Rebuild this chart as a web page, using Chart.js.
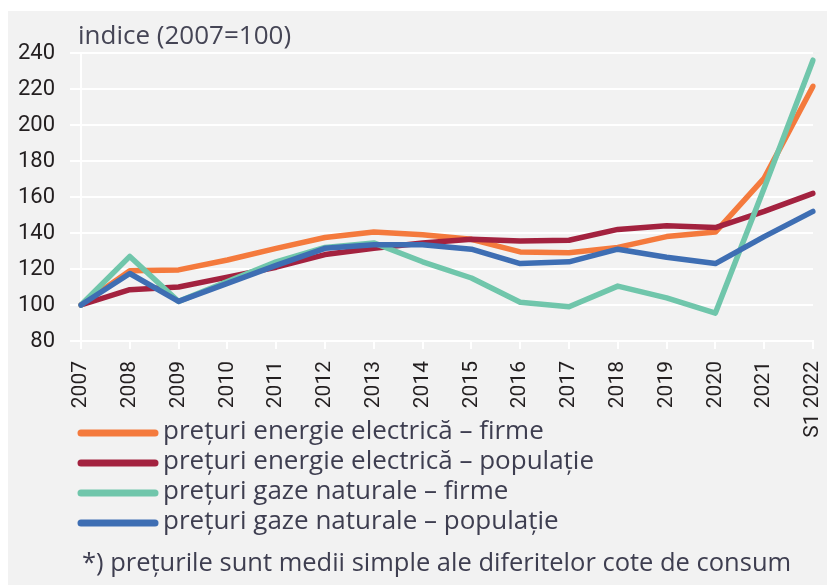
<!DOCTYPE html>
<html>
<head>
<meta charset="utf-8">
<script src="https://cdn.jsdelivr.net/npm/chart.js@4.4.1/dist/chart.umd.min.js"></script>
<style>
  html, body { margin: 0; padding: 0; background: #fff; }
  #wrap { position: absolute; left: 0; top: 0; width: 827px; height: 585px; }
</style>
</head>
<body>
<div id="wrap"><canvas id="chart" width="827" height="585"></canvas></div>
<script>
// years on the x axis
const years = ['2007', '2008', '2009', '2010', '2011', '2012', '2013', '2014',
  '2015', '2016', '2017', '2018', '2019', '2020', '2021', 'S1 2022'];

// indice (2007=100)
const elecFirme = [100, 119, 119.5, 125, 131.5, 137.5, 140.5, 139, 136.5, 129.5, 129, 132, 138, 140.5, 170.5, 221.5];
const elecPopulatie = [100, 108.5, 110, 115.5, 121, 128, 131.5, 134.5, 136.5, 135.5, 136, 142, 144, 143, 152, 162];
const gazeFirme = [100, 127, 102, 113, 124, 132, 134.5, 124, 115, 101.5, 99, 110.5, 104, 95.5, 165, 236];
const gazePopulatie = [100, 117.5, 102, 112, 122, 131.5, 133.5, 133.5, 131, 123, 124, 131, 126.5, 123, 138, 152];

const seriesLabels = [
  'prețuri energie electrică – firme',
  'prețuri energie electrică – populație',
  'prețuri gaze naturale – firme',
  'prețuri gaze naturale – populație'
];
const yTicks = [80, 100, 120, 140, 160, 180, 200, 220, 240];

const titleText = 'indice (2007=100)';
const noteText = '*) prețurile sunt medii simple ale diferitelor cote de consum';

const tickFont = 'Roboto, "Liberation Sans", sans-serif';
const textFont = '"Open Sans", "Noto Sans", sans-serif';

// background panel, title, legend and footnote
const decor = {
  id: 'decor',
  beforeDraw(chart) {
    const ctx = chart.ctx;
    ctx.save();
    ctx.fillStyle = '#ffffff';
    ctx.fillRect(0, 0, chart.width, chart.height);
    ctx.fillStyle = '#f2f2f2';
    ctx.fillRect(8, 11, chart.width - 8, chart.height - 11);
    ctx.restore();
  },
  afterDraw(chart) {
    const ctx = chart.ctx;
    ctx.save();
    ctx.textBaseline = 'middle';
    ctx.textAlign = 'left';

    ctx.fillStyle = '#454555';
    ctx.font = '26px ' + textFont;
    ctx.fillText(titleText, 78, 37);

    // legend, one row per series, in data order
    const rowY = [433, 463, 493, 523];
    chart.data.datasets.forEach((ds, i) => {
      ctx.strokeStyle = ds.borderColor;
      ctx.lineWidth = 7;
      ctx.lineCap = 'round';
      ctx.beginPath();
      ctx.moveTo(81, rowY[i]);
      ctx.lineTo(155, rowY[i]);
      ctx.stroke();
      ctx.fillStyle = '#3e3e50';
      ctx.font = '26px ' + textFont;
      ctx.fillText(ds.label, 163, rowY[i] - 1);
    });

    ctx.fillStyle = '#3e3e50';
    ctx.font = '25.5px ' + textFont;
    ctx.fillText(noteText, 82, 564);
    ctx.restore();
  }
};

const lineStyle = {
  fill: false,
  tension: 0,
  pointRadius: 0,
  borderWidth: 5.5,
  borderCapStyle: 'round',
  borderJoinStyle: 'round'
};

new Chart(document.getElementById('chart'), {
  type: 'line',
  data: {
    labels: years,
    datasets: [
      { ...lineStyle, label: seriesLabels[0], data: elecFirme, borderColor: '#f47a3d', order: 4 },
      { ...lineStyle, label: seriesLabels[1], data: elecPopulatie, borderColor: '#a3223f', order: 3 },
      { ...lineStyle, label: seriesLabels[2], data: gazeFirme, borderColor: '#70c6ab', order: 2 },
      { ...lineStyle, label: seriesLabels[3], data: gazePopulatie, borderColor: '#3e6eb3', order: 1 }
    ]
  },
  options: {
    responsive: false,
    animation: false,
    layout: { padding: { left: 0, right: 14, top: 53, bottom: 0 } },
    plugins: {
      legend: { display: false },
      tooltip: { enabled: false }
    },
    scales: {
      x: {
        offset: false,
        afterFit: (scale) => {
          scale.height = 244;
          scale.paddingLeft = 0;
          scale.paddingRight = 0;
        },
        grid: {
          drawOnChartArea: false,
          drawTicks: true,
          tickLength: 8,
          color: '#ffffff',
          lineWidth: 2
        },
        border: { color: '#ffffff', width: 2 },
        ticks: {
          autoSkip: false,
          minRotation: 90,
          maxRotation: 90,
          padding: 12,
          color: '#231f20',
          font: { family: tickFont, size: 21 }
        }
      },
      y: {
        min: 80,
        max: 240,
        afterFit: (scale) => { scale.width = 81; },
        afterBuildTicks: (scale) => { scale.ticks = yTicks.map(v => ({ value: v })); },
        grid: {
          color: '#ffffff',
          lineWidth: 2,
          drawTicks: true,
          tickLength: 11
        },
        border: { color: '#ffffff', width: 2 },
        ticks: {
          padding: 15,
          color: '#231f20',
          font: { family: tickFont, size: 22 }
        }
      }
    }
  },
  plugins: [decor]
});
</script>
</body>
</html>
